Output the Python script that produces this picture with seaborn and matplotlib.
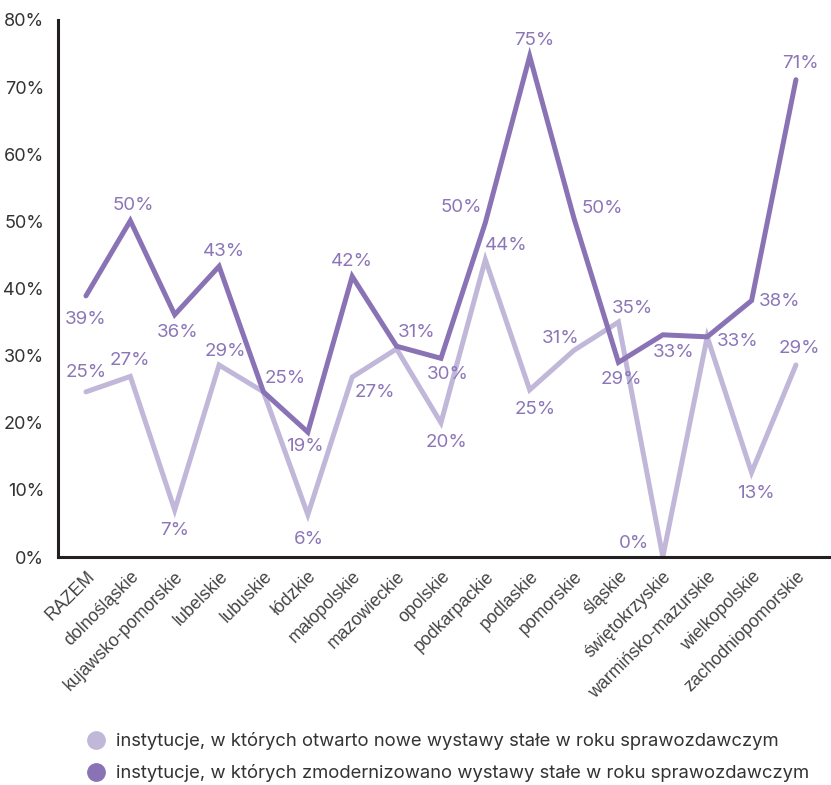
import matplotlib
matplotlib.use("Agg")
import matplotlib.pyplot as plt
import seaborn as sns
import pandas as pd
from matplotlib.lines import Line2D

categories = ["RAZEM", "dolnośląskie", "kujawsko-pomorskie", "lubelskie", "lubuskie",
              "łódzkie", "małopolskie", "mazowieckie", "opolskie", "podkarpackie",
              "podlaskie", "pomorskie", "śląskie", "świętokrzyskie",
              "warmińsko-mazurskie", "wielkopolskie", "zachodniopomorskie"]
new_exh = [24.6, 26.9, 7.0, 28.6, 24.6, 6.3, 26.8, 31.0, 20.0, 44.3,
           24.9, 30.8, 35.0, 0.0, 32.8, 12.6, 28.6]
modern_exh = [38.9, 50.1, 36.1, 43.3, 24.6, 18.6, 41.8, 31.4, 29.6, 49.8,
              74.6, 50.4, 29.0, 33.1, 32.8, 38.2, 71.1]
series_names = ["instytucje, w których otwarto nowe wystawy stałe w roku sprawozdawczym",
                "instytucje, w których zmodernizowano wystawy stałe w roku sprawozdawczym"]
y_ticks = [0, 10, 20, 30, 40, 50, 60, 70, 80]

# label offsets (pixels), None = no label
off_new = [(0, 19), (0, 16), (0, -20), (6, 14), None, (1, -25), (23, -15), None,
           (6, -20), (21, 14), (5, -20), (-13, 12), (14, 14), (-29, 13), None,
           (4, -21), (3, 17)]
off_mod = [(0, -24), (3, 15), (3, -18), (5, 15), (22, 13), (-3, -14), (0, 15),
           (20, 14), (7, -16), (-24, 15), (5, 16), (28, 10), (3, -17), (11, -18),
           (30, -5), (28, -1), (4, 16)]

light = "#c1b7d9"
dark = "#8a73b5"
label_col = "#8c76b8"
axis_col = "#231f20"

sns.set_style("white")
plt.rcParams["font.family"] = ["Inter", "DejaVu Sans"]

df = pd.DataFrame({
    "x": list(range(len(categories))) * 2,
    "v": new_exh + modern_exh,
    "s": [series_names[0]] * len(categories) + [series_names[1]] * len(categories),
})

fig = plt.figure(figsize=(8.31, 7.85), dpi=100)
ax = fig.add_axes([58 / 831, 1 - 557 / 785, 1 - 58 / 831, (557 - 20) / 785])
sns.lineplot(data=df, x="x", y="v", hue="s", palette=[light, dark], linewidth=3.6,
             ax=ax, legend=False, sort=False)
for line in ax.lines:
    line.set_solid_joinstyle("miter")
    line.set_solid_capstyle("round")

for vals, offs in ((new_exh, off_new), (modern_exh, off_mod)):
    for i, (v, o) in enumerate(zip(vals, offs)):
        if o is None:
            continue
        ax.annotate(f"{round(v)}%", (i, v), xytext=o, textcoords="offset pixels",
                    ha="center", va="center", fontsize=13.5, color=label_col)

ax.set_xlim(-0.63, 16.79)
ax.set_ylim(0, 80)
ax.set_yticks(y_ticks)
ax.set_yticklabels([f"{t}%" for t in y_ticks], fontsize=13, color="#333333")
ax.set_xticks(range(len(categories)))
ax.set_xticklabels(categories, rotation=45, ha="right", rotation_mode="anchor",
                   fontsize=12.8, color="#444444", family=["Liberation Sans", "DejaVu Sans"])
ax.tick_params(axis="y", direction="in", length=7, width=2, color=axis_col, pad=10)
ax.tick_params(axis="x", length=0, pad=8)
ax.set_xlabel("")
ax.set_ylabel("")
for side in ("top", "right"):
    ax.spines[side].set_visible(False)
for side in ("left", "bottom"):
    ax.spines[side].set_color(axis_col)
    ax.spines[side].set_linewidth(2.2)

handles = [Line2D([], [], marker="o", linestyle="", markersize=12.5, color=c) for c in (light, dark)]
fig.legend(handles, series_names, loc="upper left", bbox_to_anchor=(70 / 831, 1 - 725 / 785),
           frameon=False, fontsize=13.3, handletextpad=0.1, labelspacing=0.75,
           labelcolor="#333333", borderaxespad=0)

fig.savefig("out.png", dpi=100)
